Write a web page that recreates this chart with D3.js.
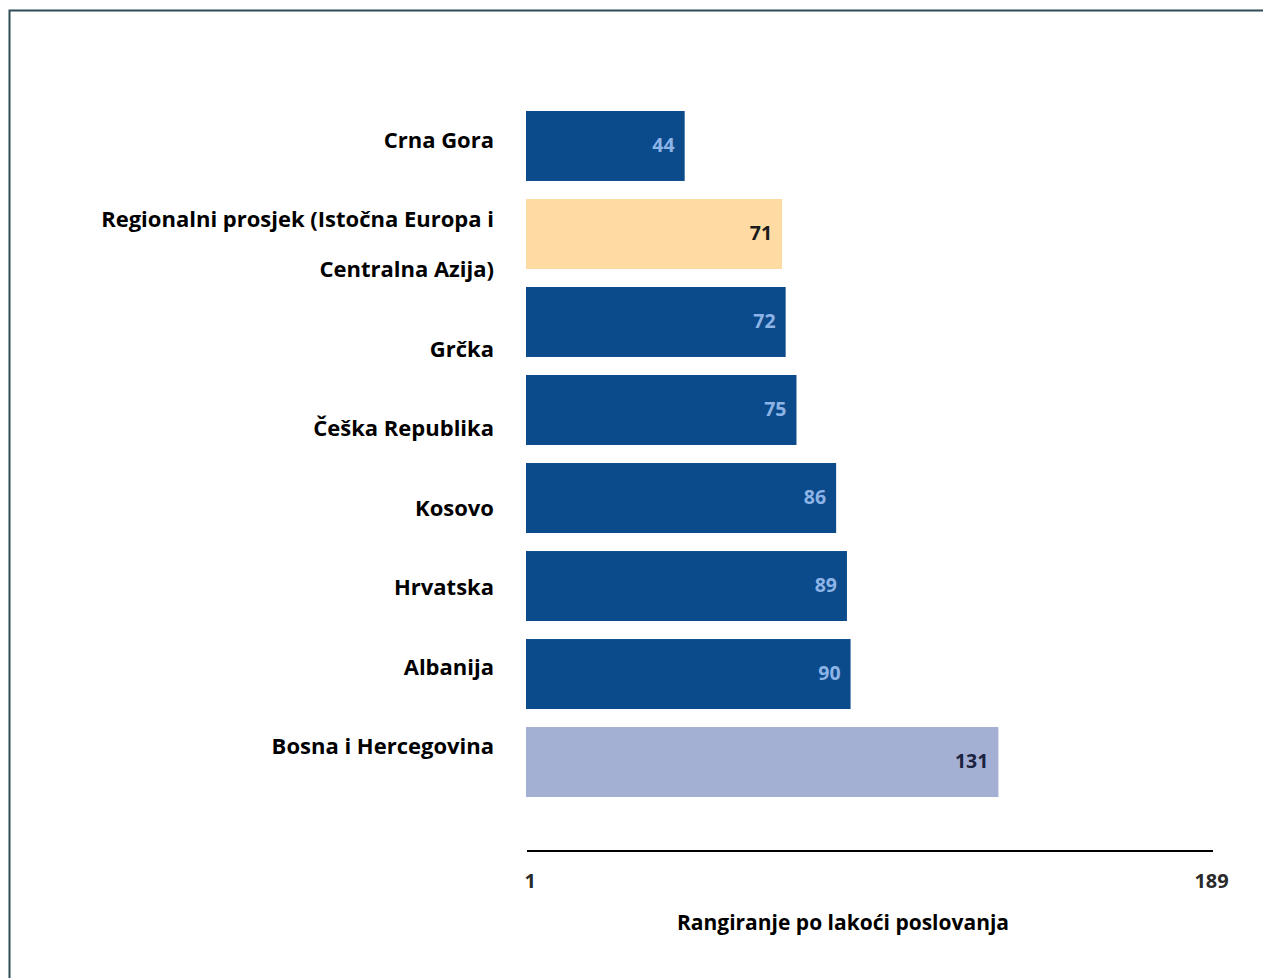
<!DOCTYPE html>
<html>
<head>
<meta charset="utf-8">
<script src="https://cdn.jsdelivr.net/npm/d3@7"></script>
<style>
  html, body { margin: 0; padding: 0; background: #ffffff; }
  svg { display: block; }
  text { font-family: "Open Sans", sans-serif; }
</style>
</head>
<body>
<svg id="chart" width="1263" height="978"></svg>
<script>
// ---- data ----
const categories = [
  "Crna Gora",
  "Regionalni prosjek (Istočna Europa i|Centralna Azija)",
  "Grčka",
  "Češka Republika",
  "Kosovo",
  "Hrvatska",
  "Albanija",
  "Bosna i Hercegovina"
];
const values = [44, 71, 72, 75, 86, 89, 90, 131];
const barKinds = ["country", "regional", "country", "country", "country", "country", "country", "highlight"];
const axisTicks = [1, 189];
const axisTitle = "Rangiranje po lakoći poslovanja";

// ---- styles ----
const fillByKind = { country: "#0b4a8b", regional: "#fddba2", highlight: "#a4afd4" };
const labelByKind = { country: "#8db4e6", regional: "#1b1b1b", highlight: "#1c2340" };

const svg = d3.select("#chart");

// frame (top + left edges)
svg.append("path")
  .attr("d", "M9.5,978 L9.5,10.5 L1263,10.5")
  .attr("fill", "none")
  .attr("stroke", "#2e4d55")
  .attr("stroke-width", 2);

const x = d3.scaleLinear().domain([0, 190.5]).range([526, 1213]);
const y = d3.scaleBand().domain(d3.range(categories.length)).range([111, 797]).paddingInner(0.205).paddingOuter(0);

// bars
svg.append("g").selectAll("rect")
  .data(values)
  .join("rect")
  .attr("x", x(0))
  .attr("y", (d, i) => y(i))
  .attr("width", d => x(d) - x(0))
  .attr("height", y.bandwidth())
  .attr("fill", (d, i) => fillByKind[barKinds[i]]);

// value labels
svg.append("g").selectAll("text")
  .data(values)
  .join("text")
  .attr("x", d => x(d) - 10)
  .attr("y", (d, i) => y(i) + y.bandwidth() / 2 - 1)
  .attr("dy", "0.35em")
  .attr("text-anchor", "end")
  .attr("font-size", 19.5)
  .attr("font-weight", 700)
  .attr("fill", (d, i) => labelByKind[barKinds[i]])
  .text(d => d);

// category labels laid out as a text flow
const labelStartY = 140, labelStep = 79.5, lineGap = 50;
let cursor = labelStartY;
const catG = svg.append("g");
categories.forEach((c, i) => {
  const lines = c.split("|");
  lines.forEach((ln, j) => {
    catG.append("text")
      .attr("x", 494)
      .attr("y", cursor + j * lineGap)
      .attr("dy", "0.35em")
      .attr("text-anchor", "end")
      .attr("font-size", 22)
      .attr("font-weight", 700)
      .attr("fill", "#000")
      .text(ln);
  });
  cursor += labelStep + (lines.length - 1) * lineGap;
});

// axis
const axisY = 851;
const axis = d3.axisBottom(x).tickValues(axisTicks).tickSize(0).tickPadding(23).tickFormat(d3.format("d"));
const ag = svg.append("g").attr("transform", `translate(0,${axisY})`).call(axis);
ag.select(".domain").attr("stroke", "#000").attr("stroke-width", 2).attr("d", `M${x(0) + 1},0H${x.range()[1]}`);
ag.selectAll(".tick text")
  .attr("font-family", "'Open Sans', sans-serif")
  .attr("font-size", 20)
  .attr("font-weight", 700)
  .attr("fill", "#2a2a2a");
ag.selectAll(".tick").filter(d => d === 189).attr("transform", `translate(${x(189) + 4},0)`);

svg.append("text")
  .attr("x", 843)
  .attr("y", 923)
  .attr("dy", "0.35em")
  .attr("text-anchor", "middle")
  .attr("font-size", 21)
  .attr("font-weight", 700)
  .attr("fill", "#000")
  .text(axisTitle);
</script>
</body>
</html>
